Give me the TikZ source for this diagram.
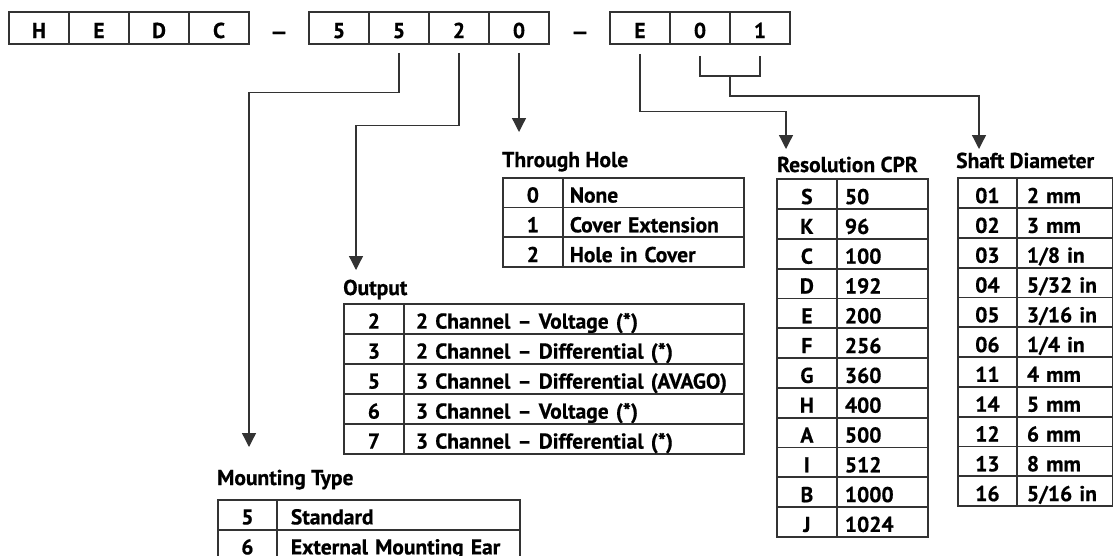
\documentclass[tikz,border=0pt]{standalone}
\usepackage{fontspec}
\setmainfont{PT Sans}[BoldFeatures={FakeBold=0.6}]
\usetikzlibrary{arrows.meta}
\definecolor{linec}{HTML}{333333}
\tikzset{
 txt/.style={font=\fontsize{21.5}{25}\selectfont\bfseries, text=black},
 topcell/.style={txt, draw=linec, line width=1.5pt, minimum width=60pt, minimum height=32pt, inner sep=0pt, text height=20pt, text depth=0pt},
 dashtxt/.style={txt, inner sep=0pt, text height=20pt, text depth=0pt, xscale=1.3},
 cell/.style={txt, draw=linec, line width=1.8pt, inner sep=0pt, text height=20pt, text depth=0pt, anchor=north west},
 keycell/.style={cell, align=center, minimum width=60pt},
 valcell/.style={cell, align=left},
 title/.style={txt, anchor=base west, inner sep=0pt},
 conn/.style={draw=linec, line width=1.3pt},
 arr/.style={conn, -{Triangle[length=14pt,width=14pt]}},
}
\begin{document}
\begin{tikzpicture}[x=1pt,y=-1pt]
\useasboundingbox (0,0) rectangle (1113,555);
% top code boxes
\node[topcell] (h1) at (39,28) {H};
\node[topcell] (h2) at (99,28) {E};
\node[topcell] (h3) at (159,28) {D};
\node[topcell] (h4) at (219,28) {C};
\node[dashtxt] (d1) at (279,29) {–};
\node[topcell] (c1) at (339,28) {5};
\node[topcell] (c2) at (399,28) {5};
\node[topcell] (c3) at (459,28) {2};
\node[topcell] (c4) at (519,28) {0};
\node[dashtxt] (d2) at (580,29) {–};
\node[topcell] (e1) at (640,28) {E};
\node[topcell] (e2) at (700,28) {0};
\node[topcell] (e3) at (760,28) {1};

% titles
\node[title] (tth) at (502,167) {Through Hole};
\node[title] (tout) at (343,295) {Output};
\node[title] (tmt) at (217,485) {Mounting Type};
\node[title] (tres) at (777,172) {Resolution CPR};
\node[title] (tsd) at (956,168) {Shaft Diameter};

% connector ends
\coordinate (ms) at ([yshift=-8pt]c2.south);
\coordinate (me) at (249,447);
\coordinate (os) at ([yshift=-8pt]c3.south);
\coordinate (oe) at (356,270);
\coordinate (ts) at ([yshift=-8pt]c4.south);
\coordinate (te) at (519,132);
\coordinate (rs) at ([yshift=-9pt]e1.south);
\coordinate (re) at (786,149);
\coordinate (b1) at ([yshift=-11pt]e2.south);
\coordinate (b2) at ([yshift=-11pt]e3.south);
\coordinate (bm) at (730,76);
\coordinate (se) at (979,149);

\draw[arr] (ms) -- ++(0,40) -| (me);
\draw[arr] (os) -- ++(0,73) -| (oe);
\draw[arr] (ts) -- (te);
\draw[arr] (rs) -- ++(0,58) -| (re);
\draw[conn] (b1) |- (bm) -| (b2);
\draw[arr] (bm) -- ++(0,20) -| (se);

% Through Hole table
\foreach \k/\v [count=\i] in {0/None,1/Cover Extension,2/Hole in Cover}{
  \node[keycell, minimum height=29.8pt] (th-k\i) at (502,{176.7+29.8*(\i-1)}) {\k};
  \node[valcell, minimum height=29.8pt, inner xsep=7pt, text width=167pt] (th-v\i) at (562,{176.7+29.8*(\i-1)}) {\v};
}
% Output table
\foreach \k/\v [count=\i] in {2/2 Channel – Voltage (*),3/2 Channel – Differential (*),5/3 Channel – Differential (AVAGO),6/3 Channel – Voltage (*),7/3 Channel – Differential (*)}{
  \node[keycell, minimum height=30pt] (out-k\i) at (343,{302.7+30*(\i-1)}) {\k};
  \node[valcell, minimum height=30pt, inner xsep=12pt, text width=316pt] (out-v\i) at (403,{302.7+30*(\i-1)}) {\v};
}
% Mounting type table
\foreach \k/\v [count=\i] in {5/Standard,6/External Mounting Ear}{
  \node[keycell, minimum width=59pt, minimum height=30pt, text height=19pt] (mt-k\i) at (217,{499+30*(\i-1)}) {\k};
  \node[valcell, minimum height=30pt, inner xsep=14pt, text width=215pt, text height=19pt] (mt-v\i) at (276,{499+30*(\i-1)}) {\v};
}
% Resolution table
\foreach \k/\v [count=\i] in {S/50,K/96,C/100,D/192,E/200,F/256,G/360,H/400,A/500,I/512,B/1000,J/1024}{
  \node[keycell, minimum height=29.8pt] (res-k\i) at (776,{178.3+29.8*(\i-1)}) {\k};
  \node[valcell, minimum height=29.8pt, inner xsep=8pt, text width=75pt] (res-v\i) at (836,{178.3+29.8*(\i-1)}) {\v};
}
% Shaft diameter table
\foreach \k/\v [count=\i] in {01/2 mm,02/3 mm,03/{1/8 in},04/{5/32 in},05/{3/16 in},06/{1/4 in},11/4 mm,14/5 mm,12/6 mm,13/8 mm,16/{5/16 in}}{
  \node[keycell, minimum width=59pt, minimum height=29.8pt] (sd-k\i) at (957,{177.3+29.8*(\i-1)}) {\k};
  \node[valcell, minimum height=29.8pt, inner xsep=10pt, text width=75.5pt] (sd-v\i) at (1016,{177.3+29.8*(\i-1)}) {\v};
}
\end{tikzpicture}
\end{document}
